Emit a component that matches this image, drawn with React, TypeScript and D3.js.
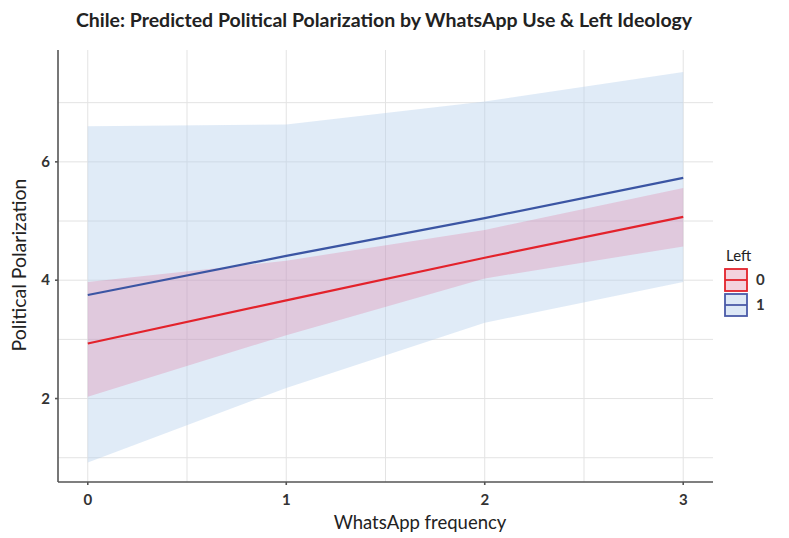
import * as d3 from 'd3';

// WhatsApp frequency values where predictions were made
const whatsapp = [0, 1, 2, 3];

// Left = 0 (red)
const fitLeft0 = [2.93, 3.66, 4.38, 5.07];
const lowLeft0 = [2.03, 3.07, 4.03, 4.57];
const highLeft0 = [3.97, 4.33, 4.85, 5.56];

// Left = 1 (blue)
const fitLeft1 = [3.75, 4.41, 5.05, 5.73];
const lowLeft1 = [0.92, 2.18, 3.28, 3.97];
const highLeft1 = [6.6, 6.63, 7.02, 7.52];

const xTicks = [0, 1, 2, 3];
const xMinor = [0.5, 1.5, 2.5];
const yTicks = [2, 4, 6];
const yMinor = [1, 3, 5, 7];
const legendLabels = ['0', '1'];

const W = 789;
const H = 538;
const FONT = 'Lato, "Open Sans", sans-serif';

type Row = { x: number; fit: number; lo: number; hi: number };

function rows(fit: number[], lo: number[], hi: number[]): Row[] {
  return whatsapp.map((x, i) => ({ x, fit: fit[i], lo: lo[i], hi: hi[i] }));
}

export default function App() {
  const panel = { left: 58, right: 713, top: 50, bottom: 482 };

  const x = d3.scaleLinear().domain([-0.15, 3.15]).range([panel.left, panel.right]);
  const y = d3.scaleLinear().domain([0.59, 7.89]).range([panel.bottom, panel.top]);

  const groups = [
    { key: '1', data: rows(fitLeft1, lowLeft1, highLeft1), line: '#3b55a3', fill: '#b4cfec', fillOpacity: 0.42 },
    { key: '0', data: rows(fitLeft0, lowLeft0, highLeft0), line: '#e3222b', fill: '#e0407a', fillOpacity: 0.2 },
  ];

  const area = d3.area<Row>().x(d => x(d.x)).y0(d => y(d.lo)).y1(d => y(d.hi));
  const line = d3.line<Row>().x(d => x(d.x)).y(d => y(d.fit));

  const legendColors: Record<string, { line: string; fill: string }> = {
    '0': { line: '#e3222b', fill: '#f3d3de' },
    '1': { line: '#4a5aa8', fill: '#dde8f6' },
  };

  return (
    <div style={{ position: 'absolute', left: 0, top: 0 }}>
      <svg width={W} height={H} style={{ display: 'block', background: '#fff' }}>
        {/* grid */}
        <g stroke="#e3e3e3" strokeWidth={1}>
          {[...yTicks, ...yMinor].map(v => (
            <line key={'gy' + v} x1={panel.left} x2={panel.right} y1={y(v)} y2={y(v)} />
          ))}
          {[...xTicks, ...xMinor].map(v => (
            <line key={'gx' + v} x1={x(v)} x2={x(v)} y1={panel.top} y2={panel.bottom} />
          ))}
        </g>

        {/* ribbons */}
        {groups.map(g => (
          <path key={'r' + g.key} d={area(g.data) ?? ''} fill={g.fill} fillOpacity={g.fillOpacity} />
        ))}

        {/* lines */}
        {groups.map(g => (
          <path key={'l' + g.key} d={line(g.data) ?? ''} fill="none" stroke={g.line} strokeWidth={2.2} />
        ))}

        {/* axes */}
        <g stroke="#555" strokeWidth={1.6}>
          <line x1={panel.left} x2={panel.left} y1={panel.top} y2={panel.bottom} />
          <line x1={panel.left} x2={panel.right} y1={panel.bottom} y2={panel.bottom} />
          {yTicks.map(v => (
            <line key={'ty' + v} x1={panel.left - 3} x2={panel.left} y1={y(v)} y2={y(v)} />
          ))}
          {xTicks.map(v => (
            <line key={'tx' + v} x1={x(v)} x2={x(v)} y1={panel.bottom} y2={panel.bottom + 3} />
          ))}
        </g>

        <g fontFamily={FONT} fontSize={15} fontWeight="bold" fill="#333">
          {yTicks.map(v => (
            <text key={'ly' + v} x={panel.left - 8} y={y(v)} dy="0.35em" textAnchor="end">{v}</text>
          ))}
          {xTicks.map(v => (
            <text key={'lx' + v} x={x(v)} y={panel.bottom + 18} dy="0.35em" textAnchor="middle">{v}</text>
          ))}
        </g>

        {/* titles */}
        <text x={384} y={27} textAnchor="middle" fontFamily={FONT} fontSize={19.5} fontWeight="bold" fill="#222">
          Chile: Predicted Political Polarization by WhatsApp Use &amp; Left Ideology
        </text>
        <text x={420} y={529} textAnchor="middle" fontFamily={FONT} fontSize={18.5} fill="#222">
          WhatsApp frequency
        </text>
        <text transform={`translate(26,${265}) rotate(-90)`} textAnchor="middle" fontFamily={FONT} fontSize={19.5} fill="#222">
          Political Polarization
        </text>

        {/* legend */}
        <g transform="translate(724,250)" fontFamily={FONT}>
          <text x={2} y={11} fontSize={15} fill="#222">Left</text>
          {legendLabels.map((k, i) => (
            <g key={'lg' + k} transform={`translate(0,${18 + i * 25})`}>
              <rect x={1} y={1} width={22} height={22} fill={legendColors[k].fill} stroke={legendColors[k].line} strokeWidth={1.8} />
              <line x1={1} x2={23} y1={12} y2={12} stroke={legendColors[k].line} strokeWidth={1.8} />
              <text x={32} y={12} dy="0.35em" fontSize={15} fontWeight="bold" fill="#333">{k}</text>
            </g>
          ))}
        </g>
      </svg>
    </div>
  );
}
